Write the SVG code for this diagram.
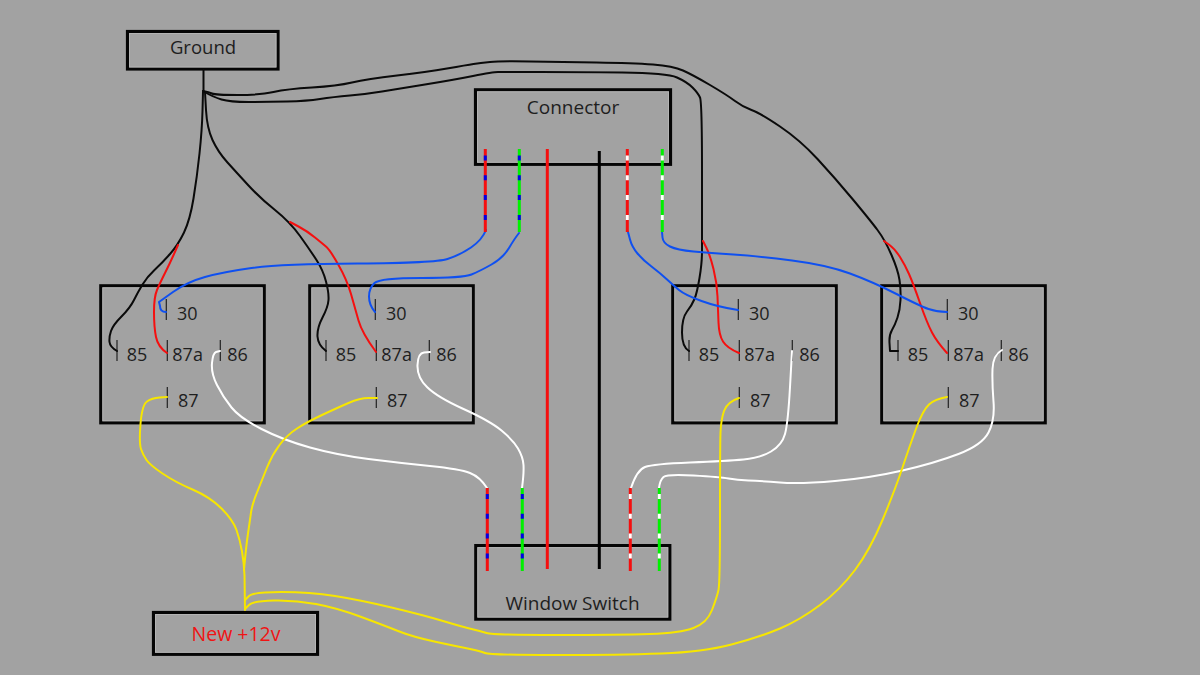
<svg xmlns="http://www.w3.org/2000/svg" width="1200" height="675" viewBox="0 0 1200 675">
<style>
.box{fill:#a2a2a2;stroke:#050505;stroke-width:3.2}
.bevel{fill:none;stroke:#b4b4b4;stroke-width:1}
.term{fill:none;stroke:#222;stroke-width:1.2}
text{font-family:"Open Sans","Noto Sans","Liberation Sans",sans-serif;font-size:18px;fill:#1e1e1e}
.mid{text-anchor:middle}
.w{fill:none;stroke-width:2;stroke-linejoin:round;stroke-linecap:round}
.k{stroke:#0a0a0a}.r{stroke:#f50f0f}.b{stroke:#0f50f0}.h{stroke:#fff}.y{stroke:#f7e600}
.s{fill:none;stroke-width:3}
.d{fill:none;stroke-width:3;stroke-dasharray:5 14.8}
</style>
<rect width="1200" height="675" fill="#a2a2a2"/>
<g id="ground"><rect class="box" x="127.5" y="31.5" width="150.5" height="37.5"/><rect class="bevel" x="129.5" y="33.5" width="146.5" height="33.5"/><text class="mid" x="203" y="54" style="font-size:18.5px">Ground</text></g>
<g id="connector"><rect class="box" x="475.5" y="89.8" width="195" height="74.5"/><rect class="bevel" x="477.5" y="91.8" width="191" height="70.5"/><text class="mid" x="573" y="114" style="font-size:19px">Connector</text></g>
<g id="window-switch"><rect class="box" x="475.8" y="545.6" width="194" height="73.5"/><rect class="bevel" x="477.8" y="547.6" width="190" height="69.5"/><text class="mid" x="572.5" y="610" style="font-size:19px">Window Switch</text></g>
<g id="new-12v"><rect class="box" x="153.5" y="612.5" width="164" height="41.8"/><rect class="bevel" x="155.5" y="614.5" width="160" height="37.8"/><text class="mid" x="236" y="641" style="fill:#f01414;font-size:19.5px">New +12v</text></g>
<g id="relay-1"><rect class="box" x="100.8" y="285.8" width="163.4" height="137"/><rect class="bevel" x="102.8" y="287.8" width="159.4" height="133"/>
<path class="term" d="M166.3 299V320M117 340V361M167.3 340V361M220.3 340V361M167.3 387V408"/>
<text x="177" y="320">30</text><text x="126.7" y="360.7">85</text><text x="172.3" y="360.7">87a</text><text x="227.3" y="360.7">86</text><text x="178" y="407">87</text></g>
<g id="relay-2"><rect class="box" x="309.8" y="285.8" width="163.4" height="137"/><rect class="bevel" x="311.8" y="287.8" width="159.4" height="133"/>
<path class="term" d="M375.3 299V320M326 340V361M376.3 340V361M429.3 340V361M376.3 387V408"/>
<text x="386" y="320">30</text><text x="335.7" y="360.7">85</text><text x="381.3" y="360.7">87a</text><text x="436.3" y="360.7">86</text><text x="387" y="407">87</text></g>
<g id="relay-3"><rect class="box" x="672.8" y="285.8" width="163.4" height="137"/><rect class="bevel" x="674.8" y="287.8" width="159.4" height="133"/>
<path class="term" d="M738.3 299V320M689 340V361M739.3 340V361M792.3 340V361M739.3 387V408"/>
<text x="749" y="320">30</text><text x="698.7" y="360.7">85</text><text x="744.3" y="360.7">87a</text><text x="799.3" y="360.7">86</text><text x="750" y="407">87</text></g>
<g id="relay-4"><rect class="box" x="881.8" y="285.8" width="163.4" height="137"/><rect class="bevel" x="883.8" y="287.8" width="159.4" height="133"/>
<path class="term" d="M947.3 299V320M898 340V361M948.3 340V361M1001.3 340V361M948.3 387V408"/>
<text x="958" y="320">30</text><text x="907.7" y="360.7">85</text><text x="953.3" y="360.7">87a</text><text x="1008.3" y="360.7">86</text><text x="959" y="407">87</text></g>
<g id="connectors">
<path class="w k" d="M203.5 70V91"/>
<path class="w k" d="M203 91Q209 92 212 93.5Q215 95 237.5 95Q260 95 273.5 92Q287 89 312 87.5Q337 86 352 82.5Q367 79 397 75.5Q427 72 447 68.5Q467 65 473.5 64Q480 63 490 62Q500 61 530 61.5Q560 62 596.5 62.5Q633 63 653 64.5Q673 66 683 70.5Q693 75 710 85Q727 95 735 101Q743 107 751.5 110Q760 113 780 126.5Q800 140 817.5 159Q835 178 852.5 199Q870 220 877.5 230Q885 240 891.5 255Q898 270 899.5 280Q901 290 900.5 300Q900 310 897.5 317.5Q895 325 892 330Q889 335 889.5 343L890 351L898 351"/>
<path class="w k" d="M203 91Q213 97 221.5 99.5Q230 102 248.5 102Q267 102 287 101.5Q307 101 320 99Q333 97 350 95.5Q367 94 382 91.5Q397 89 425 84.5Q453 80 473 76Q493 72 498 72Q503 72 540 72Q577 72 622 72.5Q667 73 677 77.5Q687 82 692.5 87.5Q698 93 700 97.5Q702 102 702 171Q702 240 702 251.5Q702 263 699.5 278Q697 293 694.5 299Q692 305 687 311.5Q682 318 682 332.5Q682 347 689 351"/>
<path class="w k" d="M203 92L202.5 111Q202 130 199.5 153.5Q197 177 193.5 198.5Q190 220 184 232.5Q178 245 170 254Q162 263 154.5 270Q147 277 142.5 284.5Q138 292 134 300Q130 308 121.5 316.5Q113 325 111 331Q109 337 109.5 342Q110 347 117 351"/>
<path class="w k" d="M205 92L206 110Q207 128 212.5 140Q218 152 227.5 162.5Q237 173 248.5 185.5Q260 198 275 210Q290 222 300 236Q310 250 316.5 260Q323 270 326 281.5Q329 293 328.5 300Q328 307 322.5 317.5Q317 328 317.5 336.5Q318 345 326 351"/>
<path class="w r" d="M178 245L174 254Q170 263 165 273Q160 283 157 290Q154 297 154 312Q154 327 156 337Q158 347 167 353"/>
<path class="w r" d="M290 222L298.5 226.5Q307 231 315 237.5Q323 244 326.5 247Q330 250 338.5 265Q347 280 351 294Q355 308 358.5 320.5Q362 333 376 352"/>
<path class="w r" d="M703 241L706.5 248Q710 255 713.5 269Q717 283 717.5 296.5Q718 310 718.5 322.5Q719 335 723 341.5Q727 348 739 353"/>
<path class="w r" d="M884 241L889.5 245Q895 249 900 257Q905 265 909 274Q913 283 920 303Q927 323 932 332.5Q937 342 947 353"/>
<path class="w b" d="M166 312Q160 312 160 306L159 302L173 292Q187 282 205 277Q223 272 251.5 268Q280 264 357.5 263.5Q435 263 447.5 259Q460 255 471 247.5Q482 240 486 230"/>
<path class="w b" d="M375 312Q369 305 369 296.5Q369 288 374.5 283Q380 278 421.5 278Q463 278 471.5 274.5Q480 271 491.5 264.5Q503 258 509 248Q515 238 519 233"/>
<path class="w b" d="M628 232L630 239.5Q632 247 637.5 253.5Q643 260 651.5 266.5Q660 273 666.5 279Q673 285 679 290Q685 295 701.5 301Q718 307 738 310"/>
<path class="w b" d="M662 232L662.5 237.5Q663 243 670 246.5Q677 250 693.5 251.5Q710 253 733.5 254.5Q757 256 792 260.5Q827 265 850 273.5Q873 282 896.5 294Q920 306 928.5 309Q937 312 947 312"/>
<path class="w h" d="M220 351L216 352Q213 353 212 363Q211 373 217 385Q223 397 231.5 407.5Q240 418 261.5 429Q283 440 310 447.5Q337 455 368.5 459Q400 463 430 466Q460 469 470 473Q480 477 487 488"/>
<path class="w h" d="M430 352L424 352.5Q418 353 417.5 365Q417 377 427 387Q437 397 463.5 409Q490 421 501.5 430.5Q513 440 518 448.5Q523 457 523.5 465Q524 473 522 488"/>
<path class="w h" d="M792 351L790 387Q788 423 785 434Q782 445 771 451.5Q760 458 743.5 459.5Q727 461 690 462.5Q653 464 645 467Q637 470 631 488"/>
<path class="w h" d="M1002 350Q993 355 992.5 369Q992 383 993.5 401.5Q995 420 988.5 432.5Q982 445 958.5 454Q935 463 902.5 470.5Q870 478 835 481Q800 484 780 482.5Q760 481 748.5 480.5Q737 480 728.5 478.5Q720 477 693.5 475.5Q667 474 663.5 477Q660 480 659 488"/>
<path class="w y" d="M167 397L159.5 397.5Q152 398 147 401.5Q142 405 140.5 424Q139 443 141 449Q143 455 146.5 460Q150 465 162.5 473.5Q175 482 192.5 489.5Q210 497 221.5 508.5Q233 520 236.5 530Q240 540 242 551.5Q244 563 244.5 575L245 610"/>
<path class="w y" d="M377 398L368.5 398Q360 398 348.5 403Q337 408 322 415Q307 422 297 428.5Q287 435 279.5 445Q272 455 267 467.5Q262 480 257 492.5Q252 505 251 512.5Q250 520 248 533.5Q246 547 244 570"/>
<path class="w y" d="M245 600L249 596Q253 592 281.5 592Q310 592 335 596Q360 600 391.5 607.5Q423 615 443 621Q463 627 471.5 629Q480 631 486.5 633Q493 635 556.5 635Q620 635 650 634Q680 633 693.5 628Q707 623 712 610Q717 597 718.5 590Q720 583 720 514Q720 445 720.5 432.5Q721 420 724 411Q727 402 739 398"/>
<path class="w y" d="M245 609L249 605Q253 601 274 600.5Q295 600 316 604Q337 608 360 616.5Q383 625 398 631Q413 637 436.5 642Q460 647 470 649Q480 651 485 653Q490 655 555 655Q620 655 661.5 653.5Q703 652 731.5 644.5Q760 637 780 628.5Q800 620 820 605Q840 590 855 570Q870 550 882.5 520Q895 490 902.5 467.5Q910 445 916.5 427.5Q923 410 929 404.5Q935 399 947 397"/>
<path class="s" stroke="#f50f0f" d="M485.3 149V232"/><path class="d" stroke="#0000e6" d="M485.3 155.5V220"/>
<path class="s" stroke="#00f000" d="M519.3 149V232"/><path class="d" stroke="#0000e6" d="M519.3 155.5V220"/>
<path class="s" stroke="#f50f0f" d="M547.3 149V569"/>
<path class="s" stroke="#000" d="M599.3 151V569"/>
<path class="s" stroke="#f50f0f" d="M627.3 149V232"/><path class="d" stroke="#fff" d="M627.3 155.5V220"/>
<path class="s" stroke="#00f000" d="M662.3 149V232"/><path class="d" stroke="#fff" d="M662.3 155.5V220"/>
<path class="s" stroke="#f50f0f" d="M487.3 488V571"/><path class="d" stroke="#0000e6" d="M487.3 494V559"/>
<path class="s" stroke="#00f000" d="M522.3 488V571"/><path class="d" stroke="#0000e6" d="M522.3 494V559"/>
<path class="s" stroke="#f50f0f" d="M630.3 488V571"/><path class="d" stroke="#fff" d="M630.3 494V559"/>
<path class="s" stroke="#00f000" d="M659.3 488V571"/><path class="d" stroke="#fff" d="M659.3 494V559"/>
</g>
</svg>
